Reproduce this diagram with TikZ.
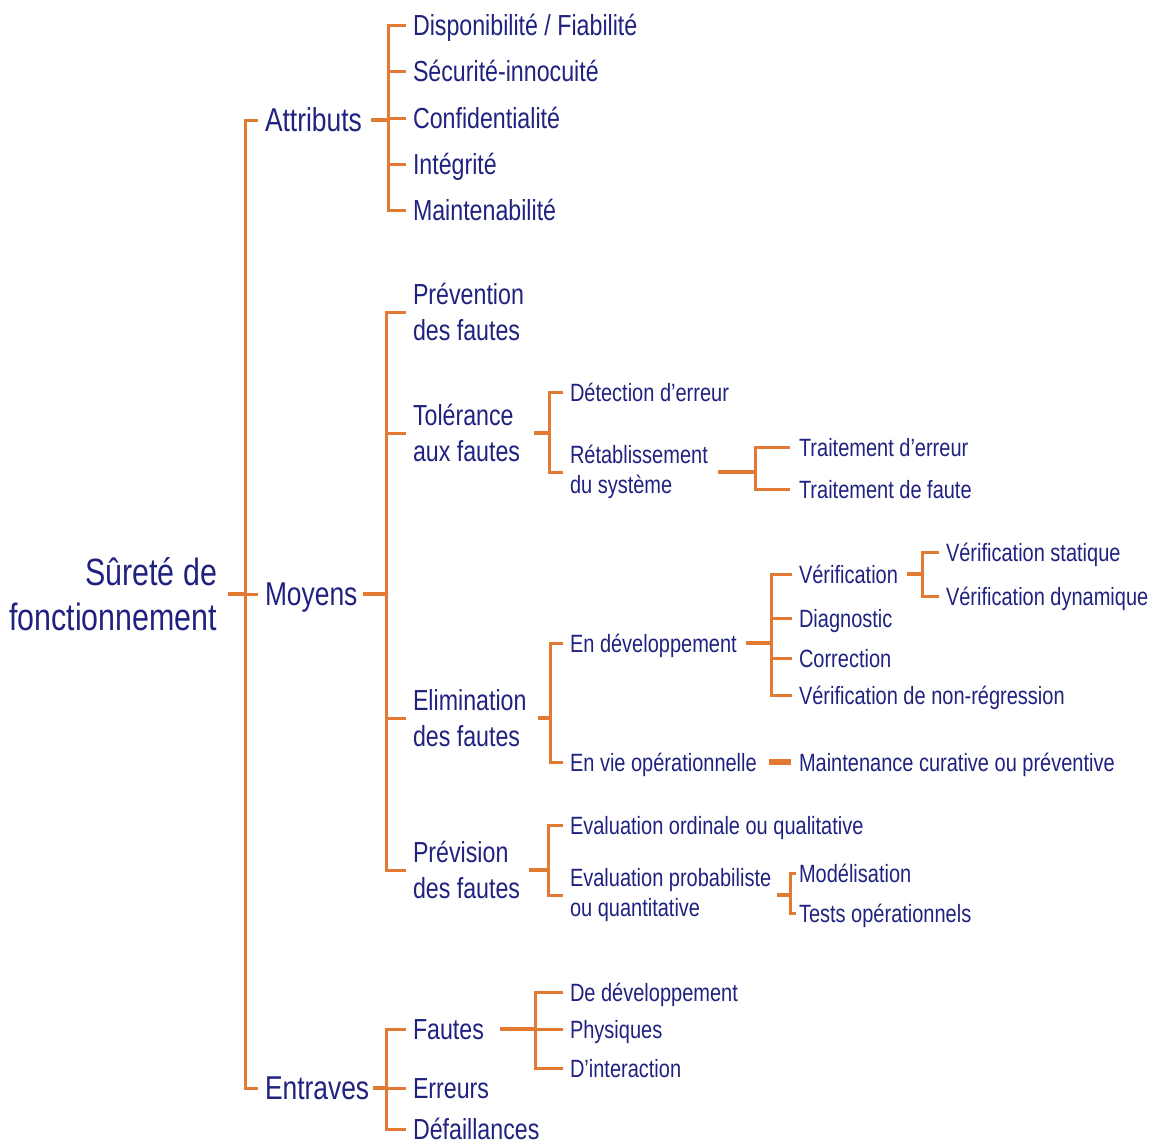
\documentclass[tikz,border=0pt]{standalone}
\usepackage{fontspec}
\setmainfont{Liberation Sans}[FakeStretch=0.80]
\definecolor{ink}{RGB}{32,34,128}
\definecolor{org}{RGB}{226,122,52}
\begin{document}
\begin{tikzpicture}[x=1pt,y=-1pt,
  lbl/.style={inner sep=0pt, outer sep=0pt, anchor=west, text=ink},
  one/.style={lbl, text depth=0pt},
  two/.style={lbl, align=left},
  fR/.style={font=\fontsize{38}{45}\selectfont},
  fA/.style={font=\fontsize{33}{40}\selectfont, text height=23.8pt},
  fB/.style={font=\fontsize{29}{36}\selectfont, text height=20.9pt},
  fC/.style={font=\fontsize{25}{30}\selectfont, text height=18pt},
  gB/.style={font=\fontsize{29}{36}\selectfont},
  gC/.style={font=\fontsize{25}{30}\selectfont},
  arm/.style={draw=org, line width=3pt, line join=miter},
  stem/.style={draw=org, line width=4pt},
  fatstem/.style={draw=org, line width=5.5pt}]
\useasboundingbox (0,0) rectangle (1153,1144);

% root
\node[lbl, fR, anchor=east, align=right] (root) at (217,594) {Sûreté de\\fonctionnement};

% first level
\node[one, fA] (attr) at (265,120) {Attributs};
\node[one, fA] (moy)  at (265,594) {Moyens};
\node[one, fA] (entr) at (265,1088) {Entraves};

% attributes
\node[one, fB] (a1) at (413,25)  {Disponibilité / Fiabilité};
\node[one, fB] (a2) at (413,71)  {Sécurité-innocuité};
\node[one, fB] (a3) at (413,118) {Confidentialité};
\node[one, fB] (a4) at (413,164) {Intégrité};
\node[one, fB] (a5) at (413,210) {Maintenabilité};

% means
\node[two, gB] (m1) at (413,312) {Prévention\\des fautes};
\node[two, gB] (m2) at (413,433) {Tolérance\\aux fautes};
\node[two, gB] (m3) at (413,718) {Elimination\\des fautes};
\node[two, gB] (m4) at (413,870) {Prévision\\des fautes};

% fault tolerance
\node[one, fC] (t1) at (570,392) {Détection d’erreur};
\node[two, gC] (t2) at (570,472) {Rétablissement\\du système};
\node[one, fC] (r1) at (799,447) {Traitement d’erreur};
\node[one, fC] (r2) at (799,489) {Traitement de faute};

% fault removal
\node[one, fC] (e1) at (570,643) {En développement};
\node[one, fC] (e2) at (570,762) {En vie opérationnelle};
\node[one, fC] (d1) at (799,574) {Vérification};
\node[one, fC] (d2) at (799,618) {Diagnostic};
\node[one, fC] (d3) at (799,658) {Correction};
\node[one, fC] (d4) at (799,695) {Vérification de non-régression};
\node[one, fC] (v1) at (946,552) {Vérification statique};
\node[one, fC] (v2) at (946,596) {Vérification dynamique};
\node[one, fC] (mc) at (799,762) {Maintenance curative ou préventive};

% fault forecasting
\node[one, fC] (p1) at (570,825) {Evaluation ordinale ou qualitative};
\node[two, gC] (p2) at (570,895) {Evaluation probabiliste\\ou quantitative};
\node[one, fC] (q1) at (799,873) {Modélisation};
\node[one, fC] (q2) at (799,913) {Tests opérationnels};

% threats
\node[one, fB] (n1) at (413,1029) {Fautes};
\node[one, fB] (n2) at (413,1088) {Erreurs};
\node[one, fB] (n3) at (413,1129) {Défaillances};
\node[one, fC] (f1) at (570,992)  {De développement};
\node[one, fC] (f2) at (570,1029) {Physiques};
\node[one, fC] (f3) at (570,1068) {D’interaction};

% bracket bars
\coordinate (b0) at (245,0);
\coordinate (bA) at (388,0);
\coordinate (bM) at (386,0);
\coordinate (bT) at (549,0);
\coordinate (bR) at (755,0);
\coordinate (bE) at (550,0);
\coordinate (bD) at (771,0);
\coordinate (bV) at (922,0);
\coordinate (bP) at (548,0);
\coordinate (bQ) at (790,0);
\coordinate (bN) at (386,0);
\coordinate (bF) at (535,0);

% root bracket
\draw[stem] ([xshift=11]root.east) -- (b0 |- root.east);
\draw[arm] ([xshift=-7]attr.west) -- (b0 |- attr.west) -- (b0 |- entr.west) -- ([xshift=-7]entr.west);
\draw[arm] (b0 |- moy.west) -- ([xshift=-7]moy.west);

% attributes bracket
\draw[stem] ([xshift=9]attr.east) -- (bA |- attr.east);
\draw[arm] ([xshift=-7]a1.west) -- (bA |- a1.west) -- (bA |- a5.west) -- ([xshift=-7]a5.west);
\foreach \c in {a2,a3,a4} \draw[arm] (bA |- \c.west) -- ([xshift=-7]\c.west);

% means bracket
\draw[stem] ([xshift=6]moy.east) -- (bM |- moy.east);
\draw[arm] ([xshift=-7]m1.west) -- (bM |- m1.west) -- (bM |- m4.west) -- ([xshift=-7]m4.west);
\foreach \c in {m2,m3} \draw[arm] (bM |- \c.west) -- ([xshift=-7]\c.west);

% tolerance
\draw[stem] ([xshift=14]m2.east) -- (bT |- m2.east);
\draw[arm] ([xshift=-7]t1.west) -- (bT |- t1.west) -- (bT |- t2.west) -- ([xshift=-7]t2.west);
\draw[stem] ([xshift=10]t2.east) -- (bR |- t2.east);
\draw[arm] ([xshift=-9]r1.west) -- (bR |- r1.west) -- (bR |- r2.west) -- ([xshift=-9]r2.west);

% removal
\draw[stem] ([xshift=12]m3.east) -- (bE |- m3.east);
\draw[arm] ([xshift=-7]e1.west) -- (bE |- e1.west) -- (bE |- e2.west) -- ([xshift=-7]e2.west);
\draw[stem] ([xshift=9]e1.east) -- (bD |- e1.east);
\draw[arm] ([xshift=-7]d1.west) -- (bD |- d1.west) -- (bD |- d4.west) -- ([xshift=-7]d4.west);
\foreach \c in {d2,d3} \draw[arm] (bD |- \c.west) -- ([xshift=-7]\c.west);
\draw[stem] ([xshift=9]d1.east) -- (bV |- d1.east);
\draw[arm] ([xshift=-7]v1.west) -- (bV |- v1.west) -- (bV |- v2.west) -- ([xshift=-7]v2.west);
\draw[fatstem] ([xshift=12]e2.east) -- ([xshift=-8]mc.west);

% forecasting
\draw[stem] ([xshift=9]m4.east) -- (bP |- m4.east);
\draw[arm] ([xshift=-7]p1.west) -- (bP |- p1.west) -- (bP |- p2.west) -- ([xshift=-7]p2.west);
\draw[stem] ([xshift=6]p2.east) -- (bQ |- p2.east);
\draw[arm] ([xshift=-3]q1.west) -- (bQ |- q1.west) -- (bQ |- q2.west) -- ([xshift=-3]q2.west);

% threats
\draw[stem] ([xshift=4]entr.east) -- (bN |- entr.east);
\draw[arm] ([xshift=-7]n1.west) -- (bN |- n1.west) -- (bN |- n3.west) -- ([xshift=-7]n3.west);
\draw[arm] (bN |- n2.west) -- ([xshift=-7]n2.west);
\draw[stem] ([xshift=16]n1.east) -- (bF |- n1.east);
\draw[arm] ([xshift=-7]f1.west) -- (bF |- f1.west) -- (bF |- f3.west) -- ([xshift=-7]f3.west);
\draw[arm] (bF |- f2.west) -- ([xshift=-7]f2.west);
\end{tikzpicture}
\end{document}
